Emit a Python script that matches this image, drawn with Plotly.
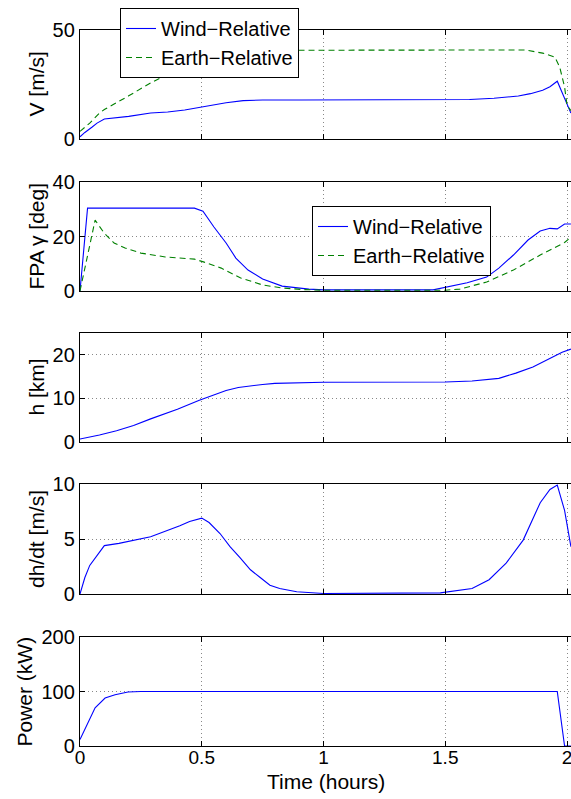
import plotly.graph_objects as go

# ---------------- data ----------------
# Panel 1: speed V [m/s]
t_v_wind = [0, 0.02, 0.05, 0.07, 0.1, 0.15, 0.2, 0.29, 0.36, 0.43, 0.49, 0.55, 0.6, 0.67, 0.75, 0.9, 1.0, 1.2, 1.4, 1.5, 1.6, 1.7, 1.8, 1.85, 1.9, 1.93, 1.96, 2.016]
v_wind = [1.0, 3.0, 5.5, 7.3, 9.2, 9.8, 10.4, 11.9, 12.4, 13.3, 14.5, 15.7, 16.6, 17.6, 17.9, 17.9, 17.9, 17.9, 17.9, 17.9, 18.1, 18.7, 19.7, 20.8, 22.4, 24.0, 26.5, 11.9]
t_v_earth = [0, 0.04, 0.08, 0.1, 0.2, 0.29, 0.41, 0.5, 0.6, 0.7, 0.8, 1.0, 1.5, 1.75, 1.83, 1.9, 1.95, 1.97, 1.99, 2.0, 2.016]
v_earth = [3.5, 7.3, 11.9, 13.5, 19.8, 25.7, 32.6, 36.3, 39.0, 40.3, 40.7, 40.8, 40.8, 40.8, 40.8, 39.4, 37.6, 33.0, 23.9, 15.6, 13.0]

# Panel 2: flight path angle [deg]
t_fpa_wind = [0, 0.031, 0.47, 0.505, 0.55, 0.6, 0.64, 0.69, 0.75, 0.83, 0.94, 1.0, 1.45, 1.51, 1.59, 1.67, 1.72, 1.78, 1.84, 1.89, 1.93, 1.96, 1.99, 2.016]
fpa_wind = [0, 30.4, 30.4, 29.3, 23.5, 17.6, 12.1, 7.7, 4.4, 1.8, 0.7, 0.4, 0.4, 1.5, 3.0, 5.1, 8.4, 13.2, 18.7, 22.0, 23.0, 22.8, 24.6, 24.6]
t_fpa_earth = [0, 0.062, 0.1, 0.14, 0.185, 0.25, 0.35, 0.47, 0.51, 0.58, 0.66, 0.75, 0.83, 0.92, 1.0, 1.5, 1.56, 1.67, 1.78, 1.89, 1.99, 2.016]
fpa_earth = [0, 26.0, 21.2, 17.6, 15.8, 13.9, 12.5, 11.7, 10.6, 8.4, 4.8, 2.2, 1.1, 0.5, 0.3, 0.3, 0.7, 3.3, 7.7, 13.2, 17.8, 19.8]

# Panel 3: altitude h [km]
t_h = [0, 0.08, 0.15, 0.22, 0.29, 0.4, 0.49, 0.55, 0.6, 0.65, 0.7, 0.75, 0.8, 0.9, 1.0, 1.5, 1.61, 1.72, 1.79, 1.86, 1.93, 1.98, 2.016]
h_km = [0.7, 1.6, 2.6, 3.8, 5.3, 7.5, 9.6, 10.9, 11.8, 12.5, 12.9, 13.2, 13.45, 13.65, 13.7, 13.75, 14.0, 14.6, 15.8, 17.2, 19.2, 20.6, 21.3]

# Panel 4: climb rate dh/dt [m/s]
t_dh = [0, 0.02, 0.04, 0.07, 0.1, 0.16, 0.29, 0.41, 0.45, 0.5, 0.53, 0.575, 0.616, 0.657, 0.7, 0.74, 0.78, 0.82, 0.89, 1.0, 1.45, 1.48, 1.61, 1.68, 1.75, 1.82, 1.89, 1.93, 1.96, 1.99, 2.016]
dhdt = [0, 1.5, 2.6, 3.5, 4.4, 4.6, 5.2, 6.2, 6.6, 6.9, 6.5, 5.5, 4.3, 3.3, 2.2, 1.5, 0.8, 0.5, 0.2, 0.05, 0.05, 0.1, 0.5, 1.3, 2.8, 4.9, 8.3, 9.5, 9.9, 7.6, 4.3]

# Panel 5: power [kW]
t_pow = [0, 0.062, 0.103, 0.144, 0.197, 0.25, 1.96, 1.99, 2.016]
power = [12, 70, 88, 94, 99, 100, 100, 0, 0]

x_ticks = [0, 0.5, 1, 1.5, 2]
x_tick_text = ["0", "0.5", "1", "1.5", "2"]
y_ranges = [[0, 50], [0, 40], [0, 25], [0, 10], [0, 200]]
y_ticks = [[0, 50], [0, 20, 40], [0, 10, 20], [0, 5, 10], [0, 100, 200]]
y_titles = ["V [m/s]", "FPA\u2009\u03b3 [deg]", "h [km]", "dh/dt [m/s]", "Power (kW)"]
x_title = "Time (hours)"
series_names = ["Wind\u2212Relative", "Earth\u2212Relative"]

# ---------------- layout helpers ----------------
W, H = 571, 799
LEFT = 80
XMAX = 2.0164
# pixel (top, bottom) of each axes box
boxes = [(30, 139), (182, 291), (333, 442), (484, 594), (637, 746)]
title_x_px = [36, 36, 36, 36, 24]

FONT = "Liberation Sans, Arial, Helvetica, sans-serif"
BLUE = "#0000ff"
GREEN = "#008000"

fig = go.Figure()

def add(x, y, i, color, dash="solid", name=None, legend=None):
    fig.add_trace(go.Scatter(
        x=x, y=y, mode="lines", name=name,
        line=dict(color=color, width=1.1, dash=dash),
        xaxis="x" if i == 1 else f"x{i}",
        yaxis="y" if i == 1 else f"y{i}",
        showlegend=name is not None,
        legend=legend if legend else "legend",
        hoverinfo="skip",
    ))

add(t_v_wind, v_wind, 1, BLUE, name=series_names[0], legend="legend")
add(t_v_earth, v_earth, 1, GREEN, dash="6px,4px", name=series_names[1], legend="legend")
add(t_fpa_wind, fpa_wind, 2, BLUE, name=series_names[0], legend="legend2")
add(t_fpa_earth, fpa_earth, 2, GREEN, dash="6px,4px", name=series_names[1], legend="legend2")
add(t_h, h_km, 3, BLUE)
add(t_dh, dhdt, 4, BLUE)
add(t_pow, power, 5, BLUE)

layout = dict(
    template="none",
    width=W, height=H, autosize=False,
    margin=dict(l=LEFT, r=0, t=0, b=0, pad=0, autoexpand=False),
    paper_bgcolor="white", plot_bgcolor="white",
    font=dict(family=FONT, size=20, color="black"),
    annotations=[],
)

for i, (top, bot) in enumerate(boxes, start=1):
    sfx = "" if i == 1 else str(i)
    layout[f"xaxis{sfx}"] = dict(
        domain=[0, 1], anchor=f"y{sfx}", range=[0, XMAX], automargin=False,
        tickmode="array", tickvals=x_ticks, ticktext=x_tick_text,
        showticklabels=(i == 5), ticklabeloverflow="allow",
        ticks="inside", ticklen=5, tickwidth=1, tickcolor="black",
        showline=True, linecolor="black", linewidth=1.3, mirror="ticks",
        showgrid=True, gridcolor="#888888", gridwidth=1, griddash="1px,3px",
        zeroline=False, tickfont=dict(size=19),
    )
    layout[f"yaxis{sfx}"] = dict(
        domain=[1 - bot / H, 1 - top / H], anchor=f"x{sfx}", automargin=False,
        range=y_ranges[i - 1], tickmode="array", tickvals=y_ticks[i - 1],
        ticks="inside", ticklen=5, tickwidth=1, tickcolor="black",
        showline=True, linecolor="black", linewidth=1.3, mirror=False,
        showgrid=True, gridcolor="#888888", gridwidth=1, griddash="1px,3px",
        zeroline=False, tickfont=dict(size=20),
    )
    layout["annotations"].append(dict(
        text=y_titles[i - 1], textangle=-90, showarrow=False,
        xref="paper", yref="paper",
        x=(title_x_px[i - 1] - LEFT) / (W - LEFT), y=1 - (top + bot) / 2 / H,
        xanchor="center", yanchor="middle", font=dict(size=21),
    ))

layout["annotations"].append(dict(
    text=x_title, showarrow=False, xref="paper", yref="paper",
    x=(326 - LEFT) / (W - LEFT), y=1 - 781 / H,
    xanchor="center", yanchor="middle", font=dict(size=21),
))

legend_style = dict(
    bgcolor="white", bordercolor="black", borderwidth=1,
    font=dict(size=20), xanchor="left", yanchor="top",
    tracegroupgap=0, itemwidth=30,
)
layout["legend"] = dict(x=(120 - LEFT) / (W - LEFT), y=1 - 8 / H, **legend_style)
layout["legend2"] = dict(x=(312 - LEFT) / (W - LEFT), y=1 - 206 / H, **legend_style)

fig.update_layout(**layout)

# pull the bottom tick labels a little closer to the axis
try:
    fig.update_layout(xaxis5=dict(ticklabelstandoff=-6))
except Exception:
    pass
# widen the legend boxes slightly
try:
    fig.update_layout(legend=dict(entrywidth=140, entrywidthmode="pixels"),
                      legend2=dict(entrywidth=140, entrywidthmode="pixels"))
except Exception:
    pass

fig.write_html(
    "out.html",
    config={"displayModeBar": False},
    post_script="document.body.style.margin='0';document.body.style.overflow='hidden';",
)
